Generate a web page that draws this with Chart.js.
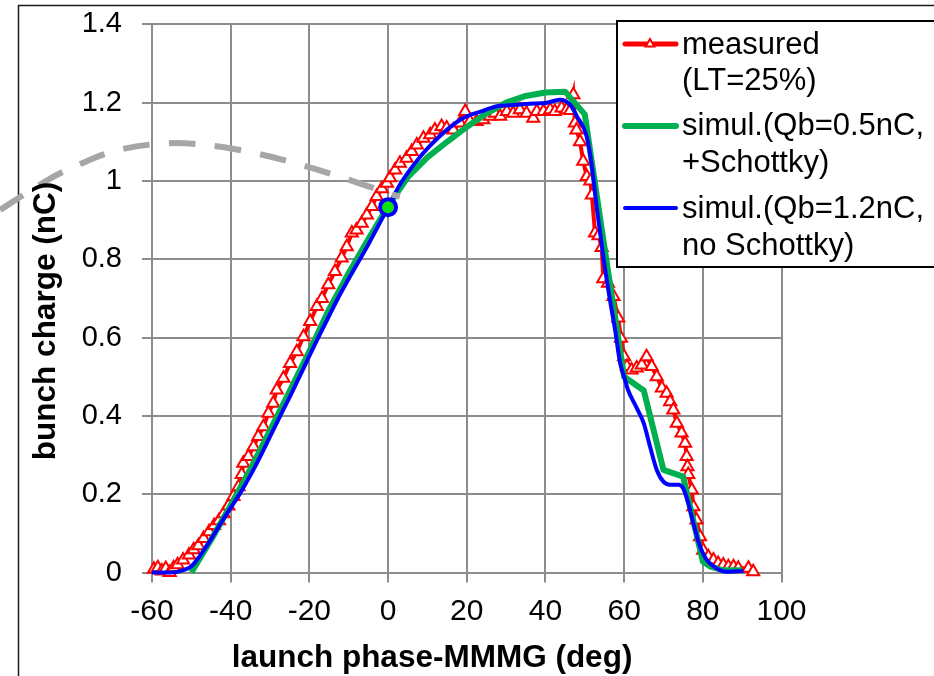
<!DOCTYPE html>
<html>
<head>
<meta charset="utf-8">
<script src="https://cdn.jsdelivr.net/npm/chart.js@4.4.0/dist/chart.umd.min.js"></script>
<style>
  html, body { margin: 0; padding: 0; background: #fff; }
  canvas { display: block; }
</style>
</head>
<body>
<canvas id="chargeChart" width="934" height="676"></canvas>
<script>
const FONT = '"Liberation Sans", Arial, sans-serif';

const xTicks = [-60, -40, -20, 0, 20, 40, 60, 80, 100];
const yTicks = [0, 0.2, 0.4, 0.6, 0.8, 1, 1.2, 1.4];

// measured bunch charge vs launch phase (LT=25%)
const measuredPhase = [
  -59.5, -58.5, -57.5, -56.5, -55.5, -54.5, -53.5, -52.1, -50.6, -49.4,
  -48.2, -46.9, -45.5, -44.2, -43.0, -41.8, -40.6, -39.3, -38.0, -37.2,
  -36.8, -35.5, -34.2, -33.0, -31.7, -30.4, -29.2, -28.3, -26.6, -24.9,
  -23.2, -21.5, -19.8, -18.1, -16.8, -15.2, -13.5, -11.8, -10.5, -9.2,
  -8.0, -6.7, -5.4, -4.1, -2.9, -1.6, -0.3, 0.5, 1.8, 3.0,
  4.7, 6.0, 7.3, 9.0, 10.7, 11.9, 13.6, 14.9, 16.6, 18.3,
  19.6, 20.8, 22.5, 24.2, 25.9, 27.2, 28.5, 30.2, 31.8, 33.5,
  35.2, 36.9, 37.8, 39.5, 41.2, 42.4, 44.1, 45.4, 46.3, 47.1,
  47.5, 47.9, 48.8, 49.6, 50.5, 51.4, 51.8, 52.6, 53.5, 54.3,
  54.7, 55.9, 57.3, 58.5, 59.2, 60.0, 60.7, 61.9, 63.2, 64.5,
  65.7, 67.0, 68.3, 69.6, 70.8, 71.7, 72.5, 73.4, 74.6, 75.5,
  75.9, 76.1, 76.3, 77.2, 77.6, 78.4, 79.3, 80.1, 81.4, 82.7,
  83.9, 85.2, 86.5, 87.8, 89.0, 91.6, 92.8
];
const measuredCharge = [
  0.008, 0.012, 0.004, 0.010, 0.000, 0.012, 0.020, 0.032, 0.045, 0.058,
  0.068, 0.087, 0.104, 0.120, 0.132, 0.150, 0.170, 0.194, 0.219, 0.250,
  0.279, 0.296, 0.321, 0.347, 0.372, 0.407, 0.432, 0.466, 0.496, 0.534,
  0.564, 0.602, 0.641, 0.679, 0.700, 0.735, 0.769, 0.803, 0.832, 0.867,
  0.875, 0.892, 0.913, 0.935, 0.960, 0.980, 0.994, 1.008, 1.028, 1.045,
  1.058, 1.075, 1.092, 1.109, 1.118, 1.130, 1.139, 1.135, 1.130, 1.148,
  1.177, 1.152, 1.152, 1.156, 1.165, 1.173, 1.165, 1.177, 1.173, 1.182,
  1.173, 1.160, 1.177, 1.177, 1.182, 1.177, 1.186, 1.182, 1.180, 1.220,
  1.148, 1.130, 1.100, 1.050, 1.011, 1.000, 0.964, 0.867, 0.860, 0.830,
  0.750, 0.739, 0.705, 0.650, 0.598, 0.551, 0.526, 0.517, 0.522, 0.530,
  0.551, 0.526, 0.500, 0.471, 0.458, 0.436, 0.415, 0.381, 0.356, 0.330,
  0.296, 0.270, 0.250, 0.211, 0.168, 0.134, 0.091, 0.057, 0.040, 0.032,
  0.023, 0.019, 0.015, 0.015, 0.011, 0.011, 0.002
];

// simulation, Qb=0.5nC with Schottky effect
const schottkyPhase = [
  -50, -45, -40, -35, -30, -25, -20, -15, -10, -5,
  0, 5, 10, 15, 20, 25, 30, 35, 40, 45,
  50, 55, 60, 65, 70, 75, 80, 82, 85, 90
];
const schottkyCharge = [
  0, 0.083, 0.172, 0.264, 0.363, 0.463, 0.565, 0.672, 0.765, 0.852,
  0.935, 1.010, 1.060, 1.100, 1.138, 1.172, 1.200, 1.217, 1.226, 1.228,
  1.170, 0.830, 0.500, 0.465, 0.262, 0.245, 0.028, 0.015, 0.006, 0.006
];

// simulation, Qb=1.2nC without Schottky effect
const noSchottkyPhase = [
  -60, -55, -52, -50, -48, -45, -42.5, -40, -37.5, -35,
  -32.5, -30, -27.5, -25, -22.5, -20, -17.5, -15, -12.5, -10,
  -5, 0, 3, 6.5, 10.5, 15, 19, 23.5, 27.5, 32,
  36, 40, 43.7, 46.3, 48, 50.5, 51.8, 53, 54.7, 56.4,
  57.7, 59, 60, 61, 63, 65, 66.6, 68.3, 70, 71.7,
  73.8, 75, 76.3, 77.6, 79, 81, 83.5, 86, 90.3
];
const noSchottkyCharge = [
  0, 0.0, 0.006, 0.016, 0.040, 0.085, 0.126, 0.165, 0.204, 0.248,
  0.296, 0.347, 0.398, 0.448, 0.500, 0.553, 0.605, 0.655, 0.705, 0.750,
  0.838, 0.933, 0.990, 1.041, 1.088, 1.131, 1.160, 1.177, 1.190, 1.194,
  1.197, 1.199, 1.207, 1.194, 1.165, 1.113, 1.037, 0.935, 0.807, 0.696,
  0.620, 0.534, 0.500, 0.466, 0.424, 0.381, 0.321, 0.262, 0.232, 0.224,
  0.224, 0.215, 0.177, 0.126, 0.075, 0.032, 0.011, 0.002, 0.004
];

// dashed guide curve, runs off the left edge of the plot
const guidePhase = [-98.6, -93.5, -86.4, -80.3, -69.9, -57.9, -46.5, -34.3, -23.1, -11.4, -0.3, 3];
const guideCharge = [0.926, 0.959, 1.003, 1.034, 1.075, 1.095, 1.092, 1.072, 1.044, 1.008, 0.970, 0.960];

// working point marker
const markerPhase = [0];
const markerCharge = [0.933];

const toPoints = (xs, ys) => xs.map((x, i) => ({ x, y: ys[i] }));

const legendItems = [
  { color: '#ff0000', width: 5, marker: true, lineY: 44, lines: ['measured', '(LT=25%)'], baselines: [54, 90] },
  { color: '#00b050', width: 6, marker: false, lineY: 126, lines: ['simul.(Qb=0.5nC,', '+Schottky)'], baselines: [135, 171.5] },
  { color: '#0000ff', width: 4, marker: false, lineY: 208, lines: ['simul.(Qb=1.2nC,', 'no Schottky)'], baselines: [218, 255] }
];

const framePlugin = {
  id: 'frame',
  beforeDatasetsDraw(chart) {
    const ctx = chart.ctx;
    ctx.save();
    ctx.strokeStyle = '#1a1a1a';
    ctx.lineWidth = 1.5;
    ctx.beginPath();
    ctx.moveTo(18.5, 700);
    ctx.lineTo(18.5, 5.5);
    ctx.lineTo(940, 5.5);
    ctx.stroke();
    ctx.restore();
  }
};

const drawTriangle = (ctx, x, y, r) => {
  ctx.beginPath();
  ctx.moveTo(x, y - r);
  ctx.lineTo(x + r * 0.866, y + r / 2);
  ctx.lineTo(x - r * 0.866, y + r / 2);
  ctx.closePath();
  ctx.fillStyle = '#fff';
  ctx.fill();
  ctx.stroke();
};

const legendPlugin = {
  id: 'boxLegend',
  afterDraw(chart) {
    const ctx = chart.ctx;
    ctx.save();
    ctx.fillStyle = '#fff';
    ctx.fillRect(616, 20, 330, 247);
    ctx.strokeStyle = '#000';
    ctx.lineWidth = 2;
    ctx.strokeRect(617, 21, 330, 246);

    ctx.font = '31px ' + FONT;
    ctx.textAlign = 'left';
    ctx.textBaseline = 'alphabetic';
    legendItems.forEach((item) => {
      ctx.strokeStyle = item.color;
      ctx.lineWidth = item.width;
      ctx.lineCap = 'round';
      ctx.beginPath();
      ctx.moveTo(625, item.lineY);
      ctx.lineTo(676, item.lineY);
      ctx.stroke();
      if (item.marker) {
        ctx.lineWidth = 2;
        ctx.lineCap = 'butt';
        drawTriangle(ctx, 650, item.lineY, 5);
      }
      ctx.fillStyle = '#000';
      item.lines.forEach((t, i) => ctx.fillText(t, 682, item.baselines[i]));
    });
    ctx.restore();
  }
};

const axisTitlePlugin = {
  id: 'axisTitles',
  afterDraw(chart) {
    const ctx = chart.ctx;
    ctx.save();
    ctx.fillStyle = '#000';
    ctx.font = 'bold 31.5px ' + FONT;
    ctx.textAlign = 'center';
    ctx.textBaseline = 'alphabetic';
    ctx.fillText('launch phase-MMMG (deg)', 432, 667);
    ctx.translate(55, 321);
    ctx.rotate(-Math.PI / 2);
    ctx.fillText('bunch charge (nC)', 0, 0);
    ctx.restore();
  }
};

const gridColor = '#8c8c8c';

new Chart(document.getElementById('chargeChart'), {
  type: 'line',
  data: {
    datasets: [
      {
        label: 'marker',
        data: toPoints(markerPhase, markerCharge),
        showLine: false,
        pointRadius: 8,
        pointBorderWidth: 4,
        pointBorderColor: '#0000ff',
        pointBackgroundColor: '#11e011',
        clip: false,
        order: 0
      },
      {
        label: 'guide',
        data: toPoints(guidePhase, guideCharge),
        borderColor: '#a6a6a6',
        borderWidth: 6,
        borderDash: [27, 19],
        borderCapStyle: 'butt',
        tension: 0.4,
        pointRadius: 0,
        clip: false,
        order: 1
      },
      {
        label: 'simul.(Qb=1.2nC, no Schottky)',
        data: toPoints(noSchottkyPhase, noSchottkyCharge),
        borderColor: '#0000ff',
        borderWidth: 4,
        cubicInterpolationMode: 'monotone',
        pointRadius: 0,
        clip: false,
        order: 2
      },
      {
        label: 'simul.(Qb=0.5nC, +Schottky)',
        data: toPoints(schottkyPhase, schottkyCharge),
        borderColor: '#00b050',
        borderWidth: 6,
        borderJoinStyle: 'round',
        tension: 0,
        pointRadius: 0,
        clip: false,
        order: 3
      },
      {
        label: 'measured (LT=25%)',
        data: toPoints(measuredPhase, measuredCharge),
        borderColor: '#ff0000',
        borderWidth: 4,
        tension: 0,
        pointStyle: 'triangle',
        pointRadius: 7,
        pointBorderWidth: 2,
        pointBorderColor: '#ff0000',
        pointBackgroundColor: '#ffffff',
        clip: false,
        order: 4
      }
    ]
  },
  options: {
    responsive: false,
    animation: false,
    devicePixelRatio: 1,
    layout: { padding: { left: 0, right: 152.5, top: 24.3, bottom: 0 } },
    plugins: {
      legend: { display: false },
      tooltip: { enabled: false }
    },
    scales: {
      x: {
        type: 'linear',
        position: 'bottom',
        afterDataLimits: (s) => { s.min = xTicks[0]; s.max = xTicks[xTicks.length - 1]; },
        afterBuildTicks: (s) => { s.ticks = xTicks.map(v => ({ value: v })); },
        afterFit: (s) => { s.height = 103.5; },
        grid: { color: gridColor, lineWidth: 2, tickLength: 10, tickColor: gridColor },
        border: { color: gridColor, width: 2 },
        ticks: {
          color: '#000',
          padding: 11,
          maxRotation: 0,
          font: { family: FONT, size: 30 },
          callback: (v) => String(v)
        }
      },
      y: {
        type: 'linear',
        min: yTicks[0],
        max: yTicks[yTicks.length - 1],
        afterBuildTicks: (s) => { s.ticks = yTicks.map(v => ({ value: v })); },
        afterFit: (s) => { s.width = 152; },
        grid: { color: gridColor, lineWidth: 2, tickLength: 10, tickColor: gridColor },
        border: { color: gridColor, width: 2 },
        ticks: {
          color: '#000',
          padding: 20,
          // a small line height keeps the top label from pushing the plot area down
          font: { family: FONT, size: 29, lineHeight: 0.25 },
          callback: (v) => String(Math.round(v * 10) / 10)
        }
      }
    }
  },
  plugins: [framePlugin, axisTitlePlugin, legendPlugin]
});
</script>
</body>
</html>
